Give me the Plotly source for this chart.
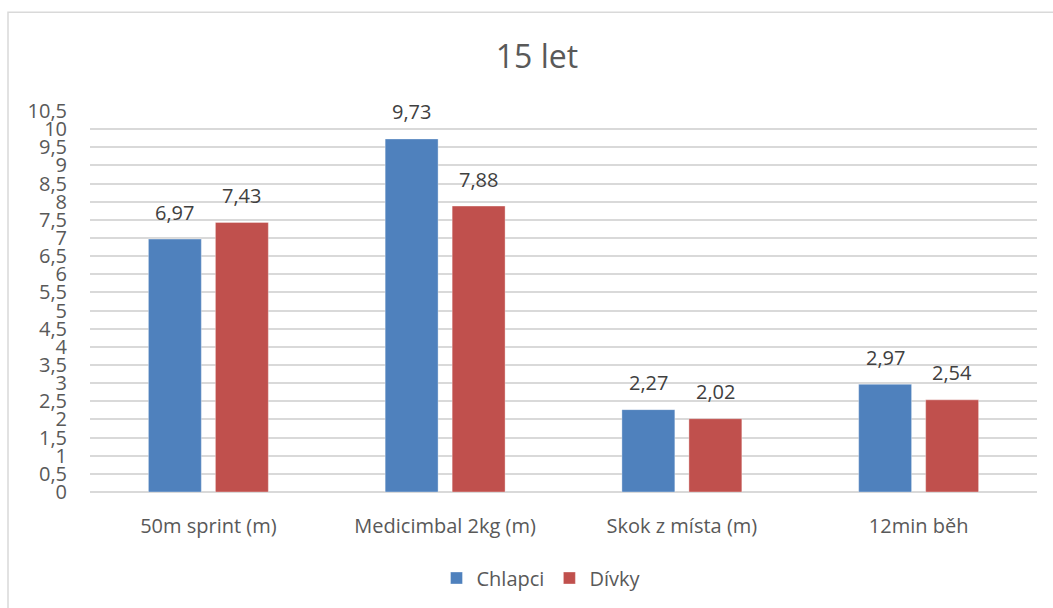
import plotly.graph_objects as go

# Test categories and mean results per group
categories = ["50m sprint (m)", "Medicimbal 2kg (m)", "Skok z místa (m)", "12min běh"]
chlapci = [6.97, 9.73, 2.27, 2.97]
divky = [7.43, 7.88, 2.02, 2.54]

FONT = "Open Sans, Noto Sans, sans-serif"
TEXT = "#595959"
LABEL = "#404040"

L, R, T, B = 90, 16, 111, 115
W, H = 1053, 608
pw, ph = W - L - R, H - T - B

BARGAP, GROUPGAP = 0.434, 0.21
slot_px = pw / len(categories) * (1 - BARGAP) / 2  # width of one bar slot inside a group

series = [("Chlapci", chlapci, "#4F81BD", -1), ("Dívky", divky, "#C0504D", 1)]

fig = go.Figure()
annotations = []
for name, vals, color, side in series:
    fig.add_trace(go.Bar(
        name=name,
        x=categories,
        y=vals,
        marker=dict(color=color, line=dict(color="rgba(255,255,255,0.35)", width=1)),
    ))
    # value labels above each bar
    for cat, v in zip(categories, vals):
        annotations.append(dict(
            x=cat, y=v, xref="x", yref="y",
            text=f"{v:.2f}".replace(".", ","),
            showarrow=False, xanchor="center", yanchor="middle",
            xshift=side * slot_px / 2, yshift=27,
            font=dict(family=FONT, size=20, color=LABEL),
        ))

fig.update_layout(
    width=W, height=H,
    margin=dict(l=L, r=R, t=T, b=B),
    paper_bgcolor="white",
    plot_bgcolor="white",
    separators=", ",
    barmode="group",
    bargap=BARGAP,
    bargroupgap=GROUPGAP,
    font=dict(family=FONT, color=TEXT, size=18),
    title=dict(text="15 let", x=537 / W, xanchor="center", y=1 - 57 / H, yanchor="middle",
               font=dict(family=FONT, size=32, color=TEXT)),
    legend=dict(orientation="h", x=(541 - L) / pw, xanchor="center", y=(H - B - 578) / ph, yanchor="middle",
                font=dict(family=FONT, size=20, color=TEXT), itemwidth=30, traceorder="normal"),
    xaxis=dict(showgrid=False, showline=False, ticks="", ticklabelstandoff=20,
               tickfont=dict(family=FONT, size=20, color=TEXT)),
    yaxis=dict(range=[0, 10.5], dtick=0.5, tick0=0, showgrid=True, gridcolor="#D9D9D9",
               gridwidth=1.5, zeroline=True, zerolinecolor="#D9D9D9", zerolinewidth=1.5,
               showline=False, ticks="", ticklabelstandoff=22,
               tickfont=dict(family=FONT, size=20, color=TEXT)),
    annotations=annotations,
    shapes=[dict(type="rect", xref="paper", yref="paper",
                 x0=(8 - L) / pw, x1=(W + 10 - L) / pw,
                 y0=(H - B - (H + 10)) / ph, y1=(H - B - 12) / ph,
                 line=dict(color="#D9D9D9", width=1.5), fillcolor="rgba(0,0,0,0)", layer="below")],
)

fig.write_html("out.html")
